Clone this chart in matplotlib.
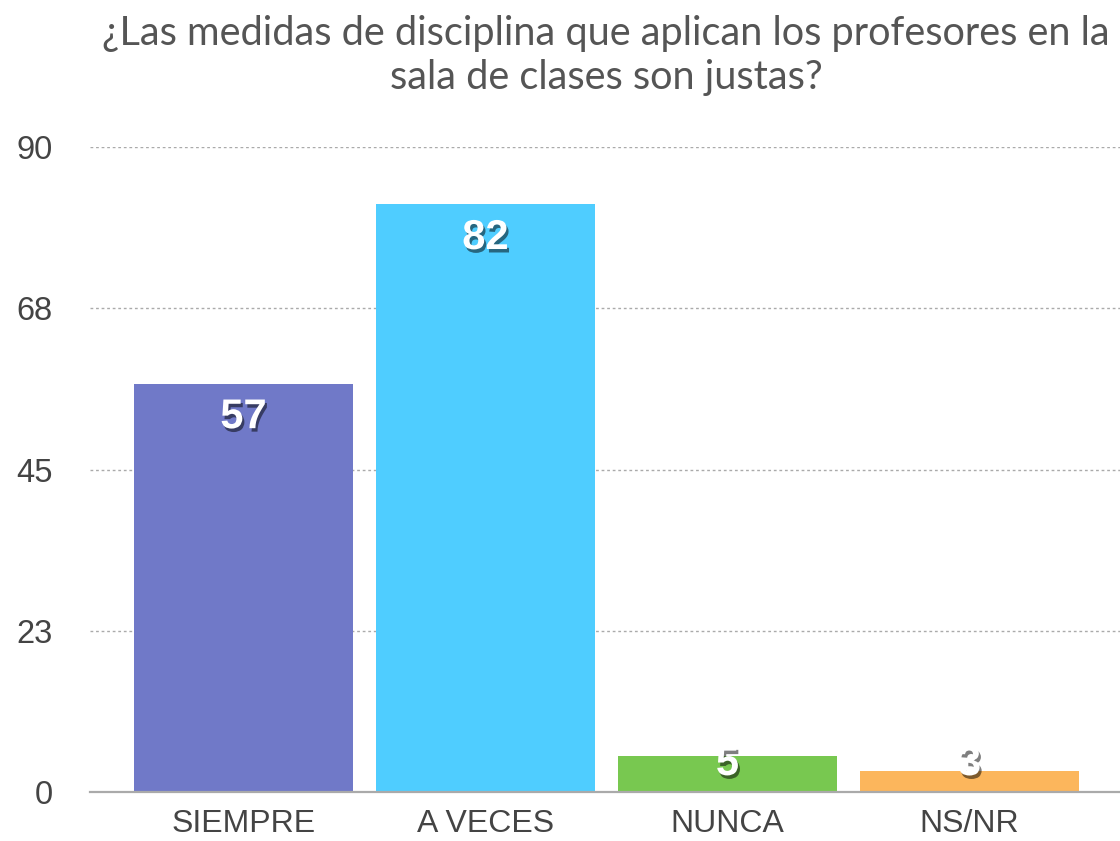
import matplotlib
matplotlib.use("Agg")
import matplotlib.pyplot as plt
import matplotlib.patheffects as pe

categorias = ["SIEMPRE", "A VECES", "NUNCA", "NS/NR"]
valores = [57, 82, 5, 3]
cores = ["#7079C8", "#4FCDFF", "#78C850", "#FCB65C"]
ticks_y = [0, 22.5, 45, 67.5, 90]
rotulos_y = ["0", "23", "45", "68", "90"]
titulo = "¿Las medidas de disciplina que aplican los profesores en la\nsala de clases son justas?"

fig = plt.figure(figsize=(11.2, 8.41), dpi=100)
ax = fig.add_axes([90 / 1120, 49 / 841, 1030 / 1120, 645 / 841])

x = list(range(len(categorias)))
ax.bar(x, valores, width=0.905, color=cores, zorder=2)

ax.set_ylim(0, 90)
ax.set_xlim(-0.634, 3.622)
ax.set_yticks(ticks_y)
ax.set_yticklabels(rotulos_y, fontsize=23.5, color="#444444", family="Liberation Sans")
ax.set_xticks(x)
ax.set_xticklabels(categorias, fontsize=23, color="#444444", family="Liberation Sans")
ax.tick_params(axis="y", length=0, pad=27)
ax.tick_params(axis="x", length=0, pad=12)

for s in ["top", "right", "left"]:
    ax.spines[s].set_visible(False)
ax.spines["bottom"].set_color("#AAAAAA")
ax.spines["bottom"].set_linewidth(1.6)
ax.spines["bottom"].set_zorder(3)

ax.yaxis.grid(True, linestyle=(0, (2, 2)), color="#AAAAAA", linewidth=1.0, zorder=1)
ax.set_axisbelow(True)

sombra = [pe.SimplePatchShadow(offset=(1.5, -2.5), shadow_rgbFace="black", alpha=0.5), pe.Normal()]
for xi, v in zip(x, valores):
    y = max(v - 4.7, 3.9)
    ax.text(xi, y, str(v), ha="center", va="center", fontsize=30, fontweight="bold",
            color="white", family="Liberation Sans", path_effects=sombra, zorder=4)

fig.text(606 / 1120, 1 - 15 / 841, titulo, ha="center", va="top", fontsize=28.6,
         color="#555555", family="Lato", linespacing=1.25)

fig.savefig("out.png", dpi=100)
